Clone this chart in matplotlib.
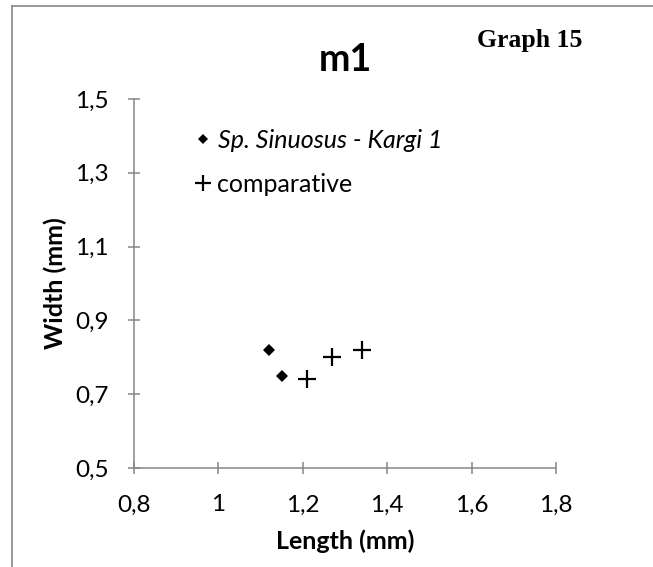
import matplotlib
matplotlib.use("Agg")
from matplotlib import pyplot as plt
from matplotlib.lines import Line2D

plt.rcParams.update({
    "font.family": ["Lato", "DejaVu Sans"],
    "axes.linewidth": 1.1,
    "xtick.direction": "inout",
    "ytick.direction": "inout",
})

grey = "#868686"

# measurements (mm)
sinuosus_len = [1.12, 1.15]
sinuosus_wid = [0.82, 0.75]
comp_len = [1.21, 1.27, 1.34]
comp_wid = [0.74, 0.80, 0.82]

x_ticks = [0.8, 1.0, 1.2, 1.4, 1.6, 1.8]
x_labels = ["0,8", "1", "1,2", "1,4", "1,6", "1,8"]
y_ticks = [0.5, 0.7, 0.9, 1.1, 1.3, 1.5]
y_labels = ["0,5", "0,7", "0,9", "1,1", "1,3", "1,5"]

W, H = 653, 567
fig = plt.figure(figsize=(W / 100, H / 100), dpi=100)
ax = fig.add_axes([134 / W, 1 - 468 / H, (556 - 134) / W, (468 - 99) / H])

ax.plot(sinuosus_len, sinuosus_wid, ls="none", marker="D", ms=6.2,
        color="black", mew=0)
ax.plot(comp_len, comp_wid, ls="none", marker="+", ms=12.5,
        color="black", mew=1.6)

ax.set_xlim(0.8, 1.8)
ax.set_ylim(0.5, 1.5)
ax.set_xticks(x_ticks, x_labels)
ax.set_yticks(y_ticks, y_labels)

for s in ["top", "right"]:
    ax.spines[s].set_visible(False)
for s in ["left", "bottom"]:
    ax.spines[s].set_color(grey)
ax.tick_params(axis="both", color=grey, width=1.1, length=8, labelsize=17.5)
ax.tick_params(axis="x", pad=15)
ax.tick_params(axis="y", pad=14)

ax.set_xlabel("Length (mm)", fontsize=18, fontweight="bold", labelpad=10)
ax.set_ylabel("Width (mm)", fontsize=18, fontweight="bold", labelpad=6)
ax.set_title("m1", fontsize=27, fontweight="bold", pad=20)

fig.text(477 / W, 1 - 47 / H, "Graph 15", fontsize=18.5, fontweight="bold",
         family="Liberation Serif", ha="left", va="baseline")

handles = [
    Line2D([], [], ls="none", marker="D", ms=5, color="black", mew=0),
    Line2D([], [], ls="none", marker="+", ms=11, color="black", mew=1.6),
]
leg = ax.legend(handles, ["Sp. Sinuosus - Kargi 1", "comparative"],
                loc="upper left", bbox_to_anchor=(195 / W, 1 - 129 / H),
                bbox_transform=fig.transFigure, frameon=False, fontsize=18,
                handlelength=0.6, handletextpad=0.3, labelspacing=0.84,
                borderpad=0, borderaxespad=0)
leg.get_texts()[0].set_fontstyle("italic")

# outer chart frame
fig.add_artist(Line2D([12 / W, 1], [1 - 6 / H, 1 - 6 / H], color=grey, lw=1.2))
fig.add_artist(Line2D([12 / W, 12 / W], [0, 1 - 6 / H], color=grey, lw=1.2))

fig.savefig("out.png", dpi=100)
